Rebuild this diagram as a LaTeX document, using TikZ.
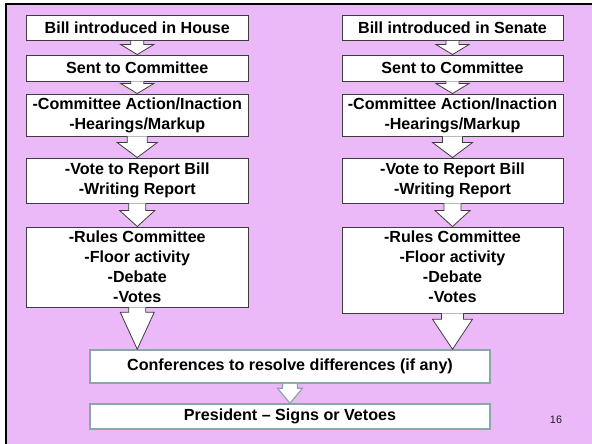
\documentclass[tikz,border=0pt]{standalone}
\usepackage{fontspec}
\setmainfont{Liberation Sans}
\usetikzlibrary{calc}
\definecolor{bgviolet}{RGB}{235,185,248}
\definecolor{boxline}{RGB}{60,60,60}
\definecolor{tealgray}{RGB}{139,166,168}
\definecolor{numcol}{RGB}{30,30,30}
\newcommand\blockarrow[6]{%
  \draw[#6] ($(#1.south)+(-#3,0)$)
    -- ($(#1.south |- #2.north)+(-#3,-#5)$)
    -- ($(#1.south |- #2.north)+(-#4,-#5)$)
    -- (#1.south |- #2.north)
    -- ($(#1.south |- #2.north)+(#4,-#5)$)
    -- ($(#1.south |- #2.north)+(#3,-#5)$)
    -- ($(#1.south)+(#3,0)$);}
\begin{document}
\begin{tikzpicture}[x=1pt,y=-1pt,
  stepbox/.style={draw=boxline,line width=0.9pt,fill=white,inner sep=0pt,
    align=center,font=\fontsize{16.1}{20}\selectfont\bfseries},
  lowbox/.style={stepbox,draw=tealgray,line width=1.5pt},
  flow/.style={draw=boxline,line width=0.8pt,fill=white,line join=miter},
  lowflow/.style={draw=tealgray,line width=1.2pt,fill=white,line join=miter}]
\useasboundingbox (0,0) rectangle (592,444);
\fill[bgviolet] (6,4) rectangle (592,444);
\draw[line width=2.5pt] (6,444) -- (6,4) -- (592,4);

% House column
\node[stepbox,minimum width=221.5pt,minimum height=25.5pt] (h1) at (137.25,27.75) {Bill introduced in House};
\node[stepbox,minimum width=221.5pt,minimum height=26pt] (h2) at (137.25,68) {Sent to Committee};
\node[stepbox,minimum width=221.5pt,minimum height=42pt] (h3) at (137.25,115) {-Committee Action/Inaction\\-Hearings/Markup};
\node[stepbox,minimum width=221.5pt,minimum height=45pt] (h4) at (137.25,180.5) {-Vote to Report Bill\\-Writing Report};
\node[stepbox,minimum width=221.5pt,minimum height=80pt] (h5) at (137.25,267) {-Rules Committee\\-Floor activity\\-Debate\\-Votes};

% Senate column
\node[stepbox,minimum width=221pt,minimum height=25.5pt] (s1) at (452.5,27.75) {Bill introduced in Senate};
\node[stepbox,minimum width=221pt,minimum height=26pt] (s2) at (452.5,68) {Sent to Committee};
\node[stepbox,minimum width=221pt,minimum height=42pt] (s3) at (452.5,115) {-Committee Action/Inaction\\-Hearings/Markup};
\node[stepbox,minimum width=221pt,minimum height=45pt] (s4) at (452.5,180.5) {-Vote to Report Bill\\-Writing Report};
\node[stepbox,minimum width=221pt,minimum height=86pt,text depth=6pt] (s5) at (452.5,270) {-Rules Committee\\-Floor activity\\-Debate\\-Votes};

% Joint boxes
\node[lowbox,minimum width=400pt,minimum height=33pt] (conf) at (290,366.5) {Conferences to resolve differences (if any)};
\node[lowbox,minimum width=400pt,minimum height=25pt] (pres) at (290,416.5) {President -- Signs or Vetoes};

% Arrows
\blockarrow{h1}{h2}{6.5}{16.5}{10}{flow}
\blockarrow{h2}{h3}{6.5}{16.5}{10}{flow}
\blockarrow{h3}{h4}{10}{20}{15}{flow}
\blockarrow{h4}{h5}{8.5}{17.5}{16}{flow}
\blockarrow{h5}{conf}{8.5}{17}{37}{flow}
\blockarrow{s1}{s2}{6.5}{16.5}{10}{flow}
\blockarrow{s2}{s3}{6.5}{16.5}{10}{flow}
\blockarrow{s3}{s4}{10}{20}{15}{flow}
\blockarrow{s4}{s5}{8.5}{17.5}{16}{flow}
\blockarrow{s5}{conf}{11}{20}{30}{flow}
\blockarrow{conf}{pres}{7.5}{12.5}{15}{lowflow}

\node[font=\fontsize{10.8}{12}\selectfont,text=numcol,inner sep=0pt] (pnum) at (556,420) {16};
\end{tikzpicture}
\end{document}
